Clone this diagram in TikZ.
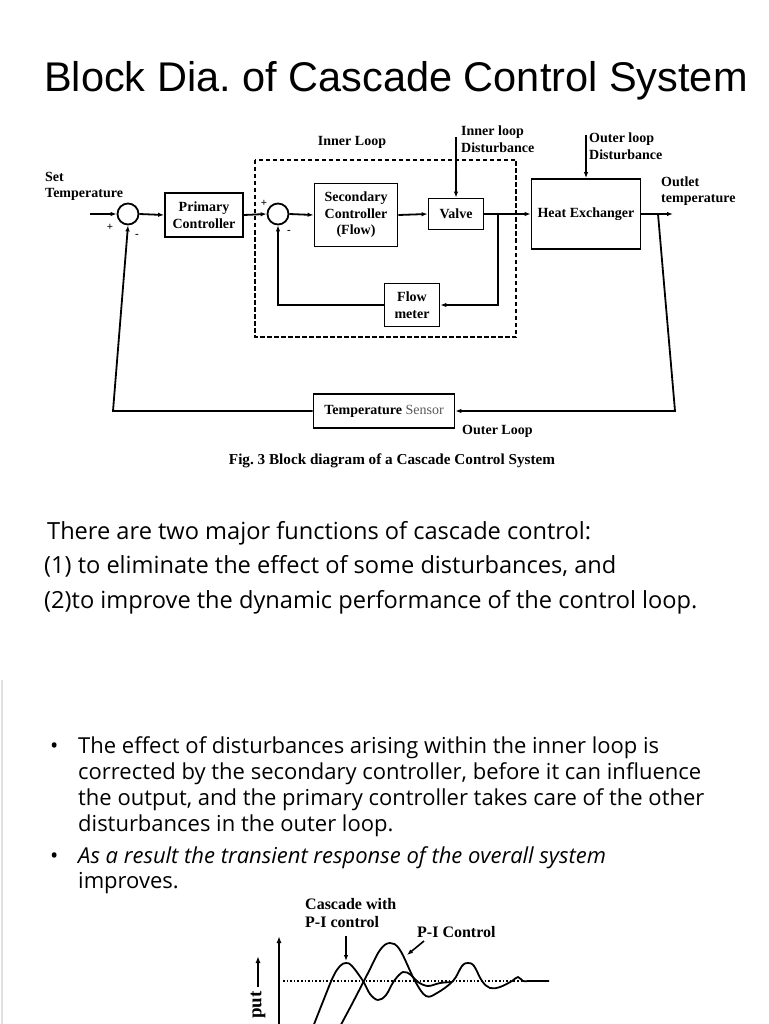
\documentclass[tikz,border=0pt]{standalone}
\usepackage{fontspec}
\setmainfont{Liberation Serif}
\newfontfamily\titlefont{Liberation Sans}
\newfontfamily\bodyfont{Open Sans}
\usetikzlibrary{arrows.meta}
\newcommand\dfnt{\bfseries\fontsize{14}{16.5}\selectfont}
\begin{document}
\frenchspacing
\begin{tikzpicture}[x=1pt,y=-1pt,
  blk/.style={draw,line width=1.8pt,align=center,font=\dfnt,inner sep=1pt},
  sumj/.style={circle,draw,line width=1.8pt,minimum size=21pt,inner sep=0pt},
  sig/.style={line width=1.8pt,-{Latex[length=6pt,width=4.5pt]}},
  lbl/.style={font=\dfnt,align=left,inner sep=0pt},
  pm/.style={font=\bfseries\fontsize{11}{11}\selectfont,inner sep=0pt},
  para/.style={font=\bodyfont\fontsize{23.6}{26}\selectfont,anchor=base west,inner sep=0pt},
  bul/.style={font=\bodyfont\fontsize{22}{24}\selectfont,anchor=base west,inner sep=0pt},
  gl/.style={font=\bfseries\fontsize{16}{18}\selectfont,align=left,inner sep=0pt},
  crv/.style={line width=1.8pt},
  dashbox/.style={line width=2.6pt,dash pattern=on 4.5pt off 2.5pt}
]
\useasboundingbox (0,0) rectangle (768,1024);
\fill[white] (0,0) rectangle (768,1024);

% title
\node[font=\titlefont\fontsize{41.5}{46}\selectfont,anchor=base west,inner sep=0pt] (title) at (44,92) {Block Dia. of Cascade Control System};

% ---------- block diagram ----------
\node[sumj] (s1) at (128,214) {};
\node[sumj] (s2) at (278,214) {};
\node[blk,minimum width=78pt,minimum height=44pt] (prim) at (204,215) {Primary\\Controller};
\node[blk,minimum width=83pt,minimum height=63pt] (sec) at (356,215) {Secondary\\Controller\\(Flow)};
\node[blk,minimum width=55pt,minimum height=31pt] (valve) at (456,214) {Valve};
\node[blk,minimum width=109pt,minimum height=70pt] (he) at (586,214) {Heat Exchanger};
\node[blk,minimum width=55pt,minimum height=43pt] (flow) at (412,305) {Flow\\meter};
\node[blk,minimum width=141pt,minimum height=34pt] (sens) at (384,411) {Temperature {\color{black!65}\mdseries Sensor}};

\draw[dashbox] (255,160) rectangle (516,337);

\coordinate (in) at (90,214);
\coordinate (out) at (673,214);
\coordinate (d1) at (456,137);
\coordinate (d2) at (586,135);
\coordinate (vb) at (498,214);
\coordinate (vb2) at (498,305);
\coordinate (hb) at (658,214);
\coordinate (hb2) at (675,411);
\coordinate (lb) at (113,411);

\draw[sig] (in) -- (s1.west);
\draw[sig] (s1.east) -- (prim.west);
\draw[sig] (prim.east) -- (s2.west);
\draw[sig] (s2.east) -- (sec.west);
\draw[sig] (sec.east) -- (valve.west);
\draw[sig] (valve.east) -- (he.west);
\draw[sig] (he.east) -- (out);
\draw[sig] (d1) -- (valve.north);
\draw[sig] (d2) -- (he.north);
\draw[sig] (vb) -- (vb2) -- (flow.east);
\draw[sig] (flow.west) -| (s2.south);
\draw[sig] (hb) -- (hb2) -- (sens.east);
\draw[sig] (sens.west) -- (lb) -- (s1.south);

\node[pm] (p1) at (110,227) {+};
\node[pm] (m1) at (137,236) {-};
\node[pm] (p2) at (264,203) {+};
\node[pm] (m2) at (289,232) {-};

\node[lbl,anchor=north west] (setT) at (45,172) {Set\\Temperature};
\node[lbl] (innerL) at (352,142) {Inner Loop};
\node[lbl,anchor=west] (idist) at (461,139) {Inner loop\\Disturbance};
\node[lbl,anchor=west] (odist) at (589,146) {Outer loop\\Disturbance};
\node[lbl,anchor=west] (outT) at (661,191) {Outlet\\temperature};
\node[lbl,anchor=west] (outerL) at (462,431) {Outer Loop};
\node[font=\bfseries\fontsize{15.2}{17}\selectfont,inner sep=0pt] (cap) at (392,461) {Fig. 3 Block diagram of a Cascade Control System};

% ---------- text ----------
\node[para] (t1) at (47,539) {There are two major functions of cascade control:};
\node[para] (t2) at (44,573) {(1) to eliminate the effect of some disturbances, and};
\node[para] (t3) at (44,608) {(2)to improve the dynamic performance of the control loop.};

\draw[black!12,line width=1.5pt] (2,680) -- (2,1024);

\node[bul] (b1) at (50,753) {\textbullet};
\node[bul] (l1) at (78,753) {The effect of disturbances arising within the inner loop is};
\node[bul] (l2) at (78,779) {corrected by the secondary controller, before it can influence};
\node[bul] (l3) at (78,805) {the output, and the primary controller takes care of the other};
\node[bul] (l4) at (78,831) {disturbances in the outer loop.};
\node[bul] (b2) at (50,863) {\textbullet};
\node[bul] (l5) at (78,863) {\itshape As a result the transient response of the overall system};
\node[bul] (l6) at (78,888) {improves.};

% ---------- response graph ----------
\node[gl,anchor=north west] (gc) at (305,898) {Cascade with\\P-I control};
\node[gl,anchor=north west] (gp) at (417,926) {P-I Control};
\coordinate (ax0) at (279,1030);
\coordinate (ax1) at (279,936);
\draw[line width=1.6pt,-{Latex[length=7pt,width=5pt]}] (ax0) -- (ax1);
\coordinate (oa0) at (258,987);
\coordinate (oa1) at (258,956);
\draw[line width=2pt,-{Latex[length=7pt,width=5pt]}] (oa0) -- (oa1);
\node[font=\bfseries\fontsize{19}{20}\selectfont,rotate=90,anchor=east,inner sep=0pt] (outp) at (258,991) {put};
\draw[line width=1.6pt,dash pattern=on 1.6pt off 2pt] (283,981) -- (522,981);
\draw[crv] plot[smooth,tension=0.6] coordinates {(311,1032) (322,1004) (333,977) (340,966) (346,963) (352,966) (363,981) (370,994) (378,1000) (386,995) (394,981) (403,972) (411,975) (418,982) (428,986) (440,983) (452,982)};
\draw[crv] plot[smooth,tension=0.6] coordinates {(337,1032) (352,1004) (368,973) (380,950) (390,943) (400,950) (415,981) (426,996) (437,993) (453,981) (462,966) (468,963) (474,966) (482,981) (490,988) (500,987) (512,981) (518,977) (523,981) (530,981) (549,981)};
\coordinate (ca0) at (346,936);
\coordinate (ca1) at (346,961);
\draw[line width=1.6pt,-{Latex[length=6pt,width=4.5pt]}] (ca0) -- (ca1);
\coordinate (pa0) at (424,941);
\coordinate (pa1) at (407,955);
\draw[line width=1.6pt,-{Latex[length=6pt,width=4.5pt]}] (pa0) -- (pa1);
\end{tikzpicture}
\end{document}
